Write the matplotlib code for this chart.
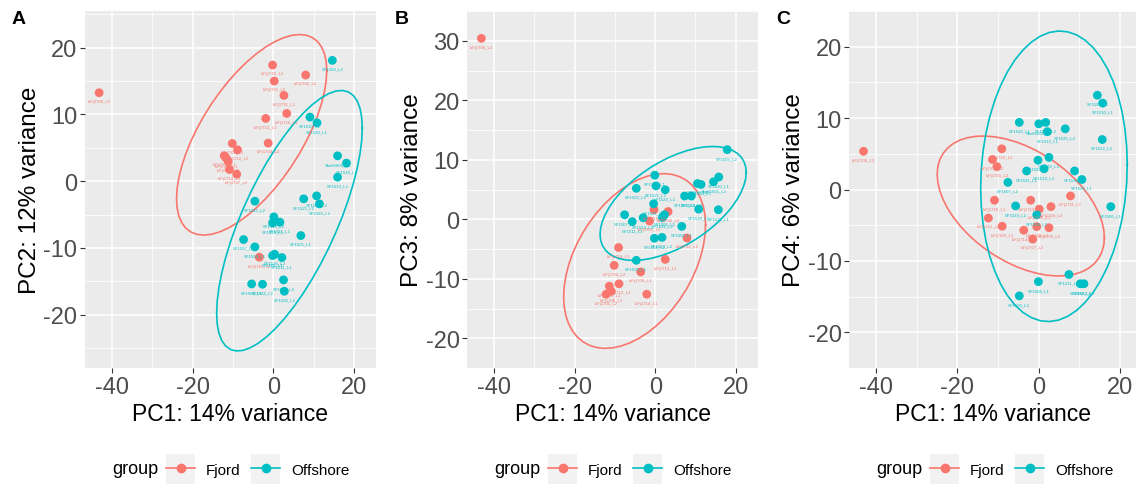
import numpy as np
import matplotlib.pyplot as plt
from matplotlib.lines import Line2D
from matplotlib.patches import Rectangle
from matplotlib.legend_handler import HandlerLine2D

plt.rcParams['font.family'] = ['Liberation Sans', 'DejaVu Sans']

FJORD_COL = '#F8766D'
OFF_COL = '#00BFC4'

# sample names (labels under the points)
fjord_names = ['IsFj1706_L2', 'IsFj1716_L2', 'IsFj1702_L2', 'IsFj1701_L2', 'IsFj1711_L1',
               'IsFj1710_L1', 'IsFj1713_L1', 'IsFj1704_L2', 'IsFj1709_L1', 'IsFj1712_L2',
               'IsFj1703_L1', 'IsFj1708_L1', 'IsFj1705_L2', 'IsFj1714_L1', 'IsFj1707_L2',
               'IsFj1715_L2']
off_names = ['SF1503_L2', 'SF1510_L1', 'SF1520_L1', 'Shelf1601_L1', 'SF1516_L2', 'SF1513_L1',
             'SF1525_L2', 'SF1522_L2', 'SF1522_L1', 'SF1502_L2', 'SF1519_L2', 'SF1521_L1',
             'SF1518_L1', 'SF1525_L1', 'SF1507_L2', 'SF1524_L1', 'SF1506_L1', 'SF1526_L2',
             'SF1511_L1', 'SF1508_L1', 'SF1504_L2', 'SF1523_L2', 'SF1526_L1']

# Panel A: PC1 vs PC2
a_fjord_x = [-43.2, -0.2, 8.0, 0.2, 2.6, 3.3, -1.9, -1.3, -10.2, -8.9, -12.2, -11.7, -11.2, -10.9, -9.1, -3.5]
a_fjord_y = [13.25, 17.4, 15.9, 15.0, 12.85, 10.15, 9.4, 5.7, 5.65, 4.7, 3.8, 3.45, 2.95, 1.75, 1.05, -11.4]
a_off_x = [14.6, 9.05, 10.8, 15.9, 18.1, 15.9, 7.5, 10.7, 11.4, -4.6, 0.1, 1.6, -0.2, 6.8, -7.4,
           -4.6, -0.2, 0.3, 2.1, -5.4, -2.7, 2.5, 2.7]
a_off_y = [18.1, 9.6, 8.75, 3.8, 2.7, 0.6, -2.65, -2.2, -3.4, -3.0, -5.35, -6.15, -6.25, -8.15, -8.75,
           -9.85, -11.15, -10.95, -11.45, -15.4, -15.45, -14.8, -16.5]

# Panel B: PC1 vs PC3
b_fjord_x = [-43.2, -0.3, 3.2, -1.4, 7.9, -9.1, 2.5, -10.2, -3.6, -9.0, -11.4, -10.9, -12.2, -2.1]
b_fjord_y = [30.4, 1.6, 1.3, -0.3, -3.15, -4.75, -6.75, -7.75, -8.85, -10.85, -11.25, -12.1, -12.6, -12.6]
b_off_x = [17.9, -0.1, 15.8, 14.5, 10.5, 11.4, 0.2, -4.7, 2.5, 7.3, 9.0, -0.4, 10.8, 15.7, -7.6,
           -3.0, 2.3, 1.8, -5.7, 6.6, -0.2, 1.7, -4.7]
b_off_y = [11.7, 7.4, 7.1, 6.3, 6.0, 5.85, 5.6, 5.2, 4.95, 3.9, 3.9, 2.6, 1.7, 1.6, 0.75,
           0.25, 0.75, 0.3, -0.4, -1.2, -3.2, -3.05, -6.9]

# Panel C: PC1 vs PC4
c_fjord_x = [-43.1, -9.1, -11.4, -10.3, 7.8, -10.9, -2.0, 3.0, 0.1, -12.4, -9.0, -0.5, 2.5, -3.7, -1.5]
c_fjord_y = [5.35, 5.7, 4.2, 3.2, -0.9, -1.5, -1.5, -2.4, -2.75, -4.0, -5.15, -5.2, -5.35, -5.7, -6.95]
c_off_x = [14.4, 15.7, -4.8, 0.0, 1.7, 2.1, 6.5, 15.6, 2.5, -0.2, 1.3, -3.0, 8.8, 10.6, -7.6,
           -5.7, 17.7, -0.5, 7.4, -0.1, 10.2, 11.1, -4.8]
c_off_y = [13.2, 12.1, 9.4, 9.2, 9.4, 8.1, 8.5, 7.0, 4.5, 4.1, 2.9, 2.6, 2.6, 1.4, 1.0,
           -2.3, -2.4, -3.55, -11.9, -12.9, -13.2, -13.2, -14.9]


def trob_ellipse(x, y, level=0.95, nu=5, segments=51):
    """95% ellipse like ggplot2 stat_ellipse(type='t') (MASS::cov.trob)"""
    X = np.column_stack([x, y])
    n, p = X.shape
    w = np.ones(n)
    loc = X.mean(axis=0)
    for _ in range(200):
        w0 = w
        Xc = X - loc
        s = np.sqrt(w / w.sum())[:, None] * Xc
        _, d, vt = np.linalg.svd(s, full_matrices=False)
        wX = Xc @ vt.T / d
        Q = (wX ** 2).sum(axis=1)
        w = (nu + p) / (nu + Q)
        loc = (w[:, None] * X).sum(axis=0) / w.sum()
        if np.all(np.abs(w - w0) < 1e-4):
            break
    sw = np.sqrt(w)[:, None] * Xc
    cov = sw.T @ sw / n
    dfd = n - 1
    f = dfd / 2 * ((1 - level) ** (-2 / dfd) - 1)
    r = np.sqrt(2 * f)
    t = np.linspace(0, 2 * np.pi, segments)
    circle = np.column_stack([np.cos(t), np.sin(t)])
    R = np.linalg.cholesky(cov).T
    pts = loc + r * circle @ R
    return pts[:, 0], pts[:, 1]


class KeyHandler(HandlerLine2D):
    def create_artists(self, legend, orig_handle, xdescent, ydescent, width, height, fontsize, trans):
        bg = Rectangle((-xdescent, -ydescent - 5), width, height + 10, facecolor='#F2F2F2',
                       edgecolor='none', transform=trans)
        arts = super().create_artists(legend, orig_handle, xdescent, ydescent, width, height, fontsize, trans)
        return [bg] + list(arts)


fig = plt.figure(figsize=(11.36, 4.85), dpi=100)

panels = [
    ('A', a_fjord_x, a_fjord_y, a_off_x, a_off_y, 'PC2: 12% variance', (-46.7, 25.3), (-28.0, 25.5),
     [-20, -10, 0, 10, 20], 85),
    ('B', b_fjord_x, b_fjord_y, b_off_x, b_off_y, 'PC3: 8% variance', (-46.7, 25.5), (-23.4, 32.9),
     [-20, -10, 0, 10, 20, 30], 467.3),
    ('C', c_fjord_x, c_fjord_y, c_off_x, c_off_y, 'PC4: 6% variance', (-46.6, 23.9), (-20.5, 24.2),
     [-20, -10, 0, 10, 20], 849.3),
]

W, H = 1136, 485
for letter, fx, fy, ox, oy, ylab, xlim, ylim, yticks, left in panels:
    width = 290.5 if letter != 'C' else 1136 - left
    ax = fig.add_axes([left / W, (H - 369) / H, width / W, 357 / H])
    ax.set_facecolor('#EBEBEB')
    for s in ax.spines.values():
        s.set_visible(False)
    ax.set_xlim(*xlim)
    ax.set_ylim(*ylim)
    ax.set_xticks([-40, -20, 0, 20])
    ax.set_yticks(yticks)
    ax.set_xticks([-30, -10, 10], minor=True)
    ax.set_yticks([v + 5 for v in yticks[:-1]] + [yticks[0] - 5, yticks[-1] + 5], minor=True)
    ax.grid(True, which='major', color='white', linewidth=1.1)
    ax.grid(True, which='minor', color='white', linewidth=0.55)
    ax.set_axisbelow(True)
    ax.tick_params(which='major', length=3.5, width=0.8, color='#333333', labelcolor='#4D4D4D',
                   labelsize=17, pad=2)
    ax.tick_params(which='minor', length=0)
    ax.set_xticklabels(['-40', '-20', '0', '20'])
    ax.set_yticklabels([str(v) for v in yticks])

    for xs, ys, col, names in [(fx, fy, FJORD_COL, fjord_names), (ox, oy, OFF_COL, off_names)]:
        ex, ey = trob_ellipse(xs, ys)
        ax.plot(ex, ey, color=col, linewidth=1.2, clip_on=True)
        ax.scatter(xs, ys, s=40, color=col, edgecolors='none', zorder=3)
        for xi, yi, nm in zip(xs, ys, names):
            ax.annotate(nm, (xi, yi), xytext=(0, -6), textcoords='offset points', ha='center',
                        va='center', fontsize=3.1, color=col, zorder=4, clip_on=True)

    ax.set_xlabel('PC1: 14% variance', fontsize=16.5, labelpad=3)
    ax.set_ylabel(ylab, fontsize=17.5, labelpad=2)
    fig.text((left - 73) / W, 1 - 20 / H, letter, fontsize=14, fontweight='bold', va='center', ha='left')

    handles = [Line2D([], [], color=FJORD_COL, marker='o', markersize=6, linewidth=1.2),
               Line2D([], [], color=OFF_COL, marker='o', markersize=6, linewidth=1.2)]
    leg = fig.legend(handles, ['Fjord', 'Offshore'], loc='center left',
                     bbox_to_anchor=((left + 81) / W, 1 - 470 / H), ncol=2, frameon=False,
                     fontsize=11, handlelength=1.9, handleheight=1.2, handletextpad=0.7,
                     columnspacing=0.7, borderpad=0, borderaxespad=0,
                     handler_map={Line2D: KeyHandler()})
    fig.text((left + 27) / W, 1 - 470 / H, 'group', fontsize=13, va='center', ha='left')

fig.savefig('out.png', dpi=100)
